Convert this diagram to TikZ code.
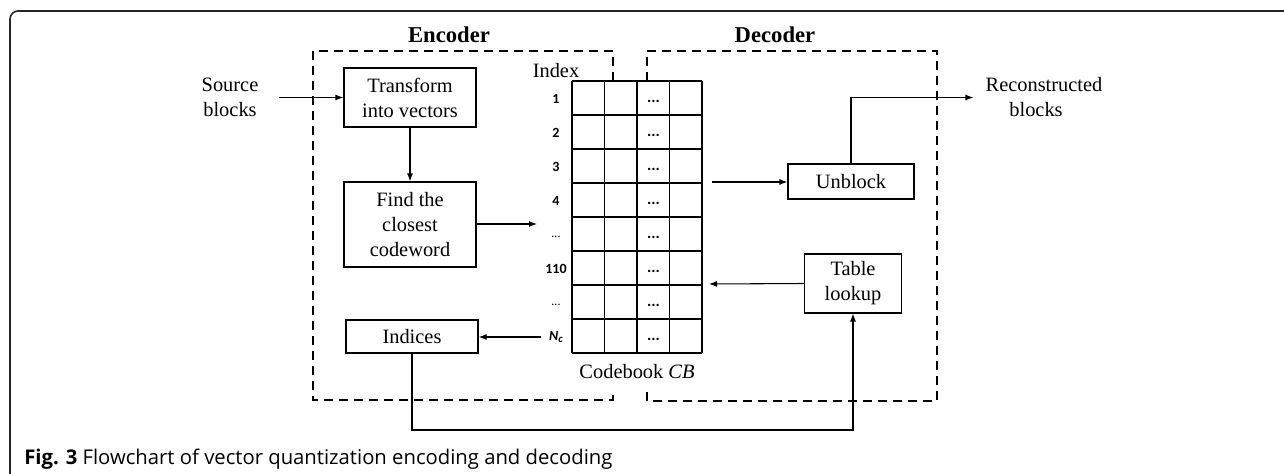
\documentclass[tikz,border=0pt]{standalone}
\usepackage{fontspec}
\setmainfont{Liberation Serif}
\newfontfamily\labfont{Carlito}
\newfontfamily\capfont{Open Sans}
\usetikzlibrary{arrows.meta}
\begin{document}
\begin{tikzpicture}[x=0.75pt,y=-0.75pt,
  txt/.style={font=\fontsize{15.3}{18.75}\selectfont, align=center, inner sep=0pt},
  box/.style={txt, draw, line width=0.9pt},
  ttl/.style={font=\bfseries\fontsize{17}{20}\selectfont, inner sep=0pt},
  dbox/.style={line width=1.5pt, dash pattern=on 6.75pt off 4.5pt},
  gridline/.style={line width=1pt},
  rowlab/.style={font=\labfont\bfseries\fontsize{10.5}{12}\selectfont, inner sep=0pt},
  rowdots/.style={font=\labfont\fontsize{9}{10}\selectfont, inner sep=0pt},
  celldots/.style={font=\labfont\bfseries\fontsize{12}{14}\selectfont, inner sep=0pt},
  arr/.style={-{Latex[length=6pt,width=4.5pt]}, line width=0.8pt},
  frame/.style={line width=1.2pt, draw=black!85}
]
\useasboundingbox[fill=white] (0,0) rectangle (1284,474);
% outer frame
\draw[frame, rounded corners=6pt] (10,474) -- (10,11) -- (1284,11);
% titles
\node[ttl] (enc) at (449,35) {Encoder};
\node[ttl] (dec) at (775,35) {Decoder};
% dashed regions
\draw[dbox] (613,81) -- (613,51) -- (313,51) -- (313,400) -- (613,400) -- (613,392);
\draw[dbox] (647,81) -- (647,51) -- (937,51) -- (937,401) -- (647,401) -- (647,392);
% codebook grid
\foreach \i in {0,...,4} \draw[gridline] (572+\i*32.5,81) -- (572+\i*32.5,353);
\foreach \j in {0,...,8} \draw[gridline] (572,81+\j*34) -- (702,81+\j*34);
\foreach \j in {0,...,7} \node[celldots] (d\j) at (653.5,101+\j*34) {...};
\node[txt] (index) at (556,71) {Index};
\node[rowlab] (r1) at (556,99) {1};
\node[rowlab] (r2) at (556,133) {2};
\node[rowlab] (r3) at (556,167) {3};
\node[rowlab] (r4) at (556,201) {4};
\node[rowdots] (r5) at (556,237) {...};
\node[rowlab] (r6) at (556,269) {110};
\node[rowdots] (r7) at (556,305) {...};
\node[rowlab] (nc) at (556,337) {\itshape N\raisebox{-1.5pt}{\fontsize{8}{9}\selectfont c}};
\node[txt] (cb) at (637,372) {Codebook \textit{CB}};
\coordinate (cbin) at (537,224);
\coordinate (cbout) at (712,182);
\coordinate (cbback) at (709,284);
\coordinate (bot) at (632,430);
% encoder boxes
\node[box, minimum width=99pt, minimum height=44.25pt] (trans) at (410,97.5) {Transform\\into vectors};
\node[box, minimum width=99pt, minimum height=63.75pt] (find) at (410,224.5) {Find the\\closest\\codeword};
\node[box, minimum width=99pt, minimum height=24.75pt] (ind) at (412,336.5) {Indices};
% decoder boxes
\node[box, minimum width=94.5pt, minimum height=26.25pt] (unb) at (851,181.5) {Unblock};
\node[box, minimum width=72.75pt, minimum height=44.25pt] (tab) at (853,283.5) {Table\\lookup};
% outside texts
\node[txt] (src) at (230,97.5) {Source\\blocks};
\node[txt] (rec) at (1044,97.5) {Reconstructed\\blocks\hspace*{12pt}};
% connectors
\draw[arr] ([xshift=15pt]src.east) -- (trans.west);
\draw[arr] (trans) -- (find);
\draw[arr] (find.east |- cbin) -- (cbin);
\draw[arr] (cbout) -- (cbout -| unb.west);
\draw[arr] (unb.north) |- ([xshift=-9pt]rec.west);
\draw[arr] (tab.west) -- (cbback);
\draw[arr] ([xshift=-6pt]nc.west) -- (ind.east |- nc);
\draw[arr] (ind.south) |- (bot) -| (tab.south);
% caption
\node[anchor=base west, inner sep=0pt, font=\capfont\fontsize{15.2}{17}\selectfont] (cap) at (24,464) {\textbf{Fig. 3} Flowchart of vector quantization encoding and decoding};
\end{tikzpicture}
\end{document}
